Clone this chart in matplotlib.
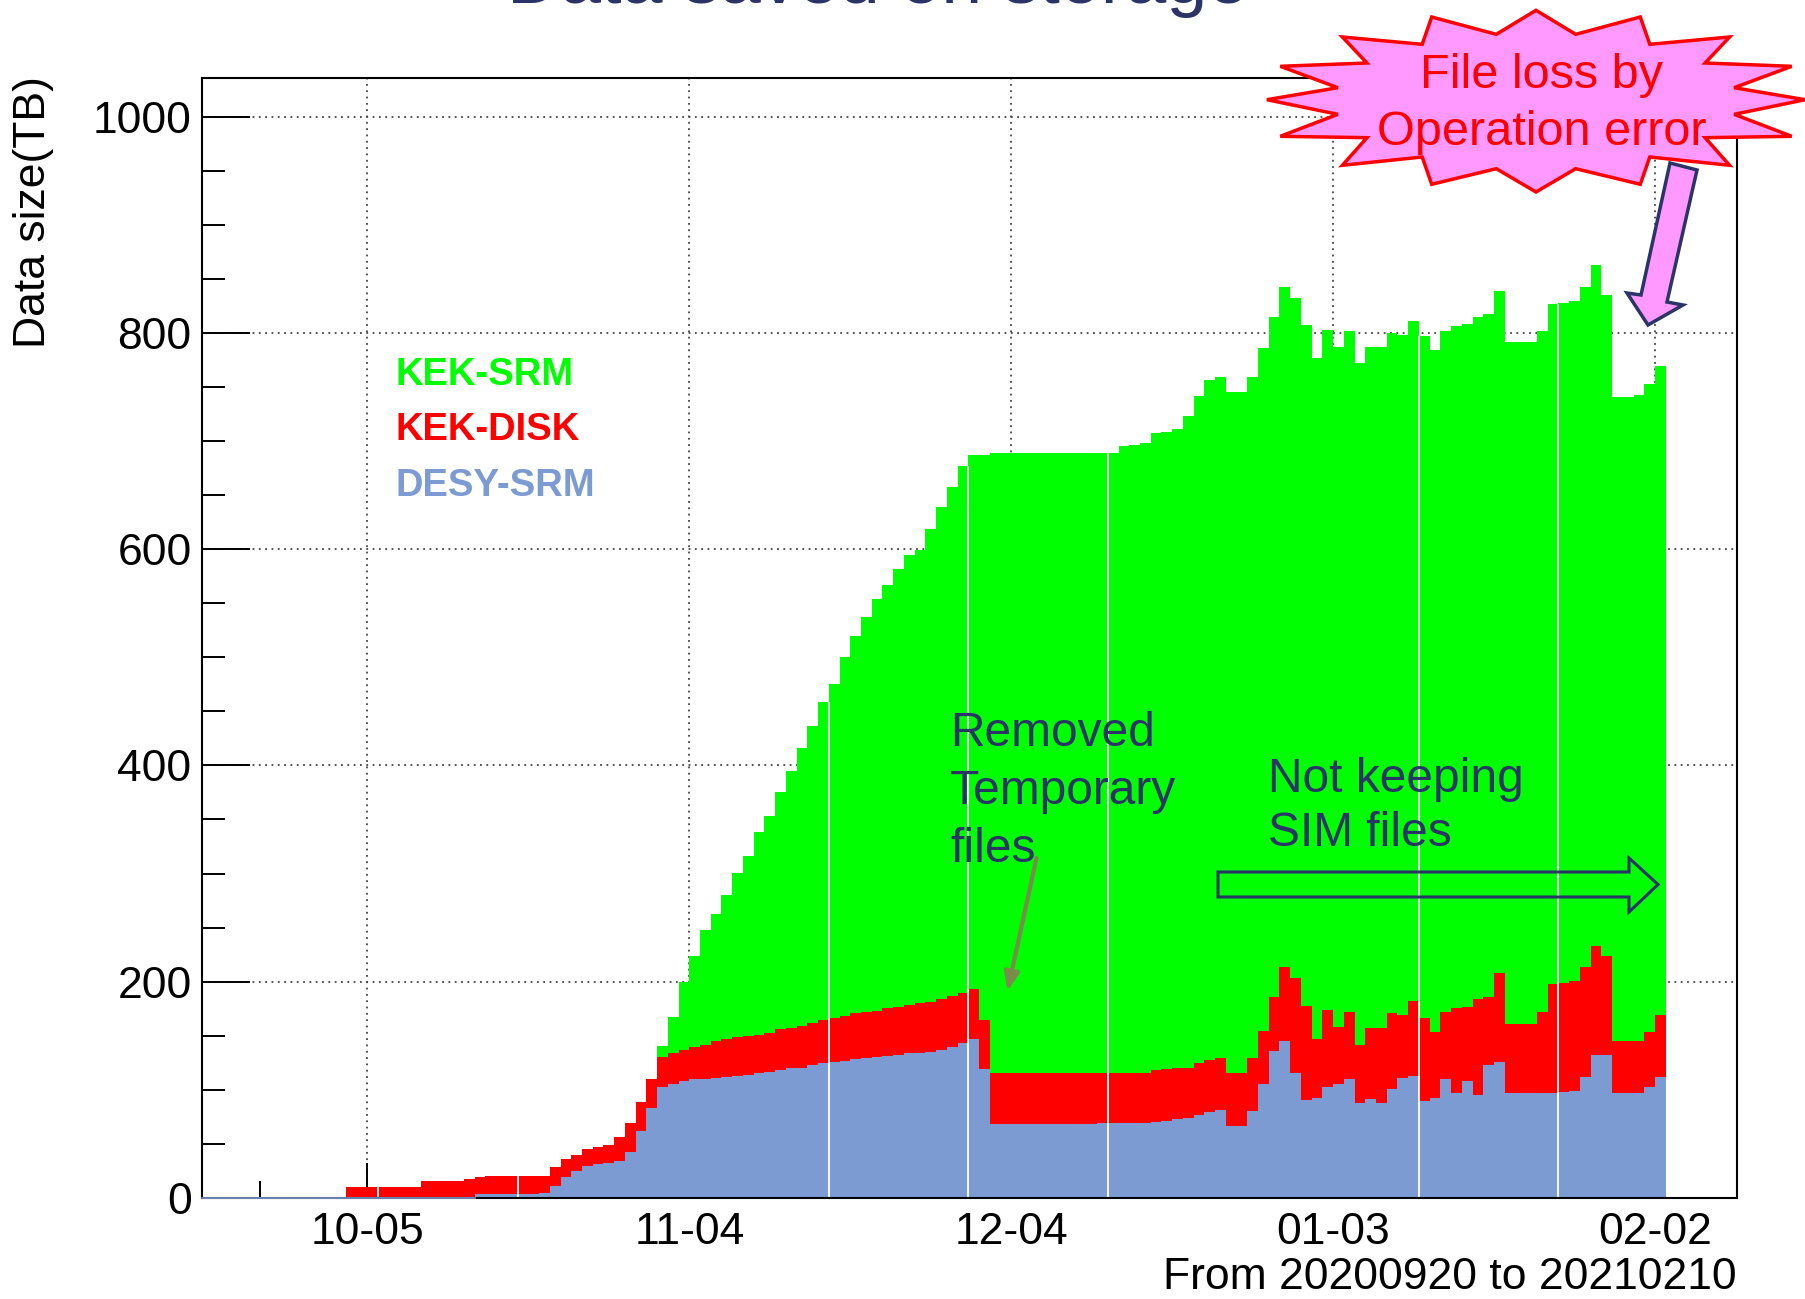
import matplotlib
matplotlib.use('Agg')
import matplotlib.pyplot as plt
import numpy as np
from matplotlib.patches import Polygon
from matplotlib.ticker import MultipleLocator, FixedLocator

plt.rcParams['font.family'] = ['Liberation Sans', 'DejaVu Sans']

# ---------------- data (daily bins, day 0 = 2020-09-20) ----------------
start_day = 13  # first non-empty bin = 2020-10-03
desy_srm = [0, 0, 0, 0, 0, 0, 0, 0, 0, 0, 0, 0,
            3.7, 3.7, 3.7, 3.7, 3.7, 3.7, 5.0, 11.0, 19.7, 25.0, 29.6, 31.4, 32.5, 34.2, 42.8, 62.2, 83.0,
            102.3, 105.4, 108.5, 109.7, 110.0, 111.3, 112.2, 112.8, 113.7, 115.3, 116.8, 118.4, 119.9, 120.5,
            123.0, 124.5, 126.0, 127.0, 128.2, 129.7, 130.7, 131.3, 132.2, 133.8, 134.4, 135.3, 136.8, 139.9,
            143.0, 146.7, 119.0,
            68.1, 68.1, 68.1, 68.1, 68.1, 68.1, 68.1, 68.1, 68.1, 68.1, 69.7, 69.7, 69.7, 69.7, 69.7,
            70.6, 71.2, 72.7, 74.3, 76.7, 79.8, 81.4, 66.9, 66.9, 80.4, 105.1, 136.2, 145.2, 115.9, 90.6,
            92.2, 102.3, 105.1, 109.7, 88.1, 91.5, 88.1, 100.8, 111.3, 112.8, 89.7, 92.2, 110.0, 96.8, 108.5,
            95.2, 123.0, 126.0, 96.8, 96.8, 96.8, 96.8, 96.8, 97.7, 99.2, 112.2, 132.2, 132.2, 96.8, 96.8,
            96.8, 102.3, 112.2]
kek_disk = [10.5, 10.5, 10.5, 10.5, 10.5, 10.5, 10.5, 16.0, 16.0, 16.0, 16.0, 17.6,
            16.0, 16.9, 16.9, 16.9, 16.9, 16.9, 15.6, 17.4, 16.3, 14.8, 15.4, 16.1, 16.2, 21.8, 27.0, 26.8, 26.7,
            28.4, 28.4, 28.3, 30.2, 31.5, 34.2, 34.8, 35.8, 36.3, 35.4, 36.2, 37.6, 37.1, 38.5,
            38.5, 40.5, 40.7, 41.3, 42.6, 42.3, 42.3, 44.1, 44.8, 44.7, 45.6, 46.3, 47.2, 47.1,
            47.0, 46.3, 45.6,
            47.8, 47.8, 47.8, 47.8, 47.8, 47.8, 47.8, 47.8, 47.8, 47.8, 46.2, 46.2, 46.2, 46.2, 46.2,
            47.8, 48.1, 47.2, 45.6, 47.8, 47.8, 47.7, 49.0, 49.0, 48.7, 49.3, 49.3, 68.0, 87.2, 87.2,
            54.8, 71.5, 52.7, 62.0, 53.4, 66.1, 69.5, 70.0, 57.9, 69.6, 77.0, 61.0, 62.3, 78.6, 68.4,
            88.8, 62.5, 81.7, 64.1, 64.1, 64.1, 75.5, 100.8, 101.4, 101.4, 101.7, 100.8, 91.9, 48.7, 48.7,
            48.7, 50.9, 57.0]
kek_srm = [0, 0, 0, 0, 0, 0, 0, 0, 0, 0, 0, 0,
           0, 0, 0, 0, 0, 0, 0, 0, 0, 0, 0, 0, 0, 0, 0, 0, 0,
           10.1, 33.8, 63.2, 83.9, 106.3, 117.1, 133.2, 151.6, 166.2, 187.3, 200.5, 219.6, 238.0, 256.7,
           274.9, 293.9, 308.2, 332.2, 348.8, 365.5, 380.4, 391.6, 404.8, 416.5, 419.3, 437.1, 455.2, 470.0,
           486.5, 494.0, 522.4,
           572.7, 572.7, 572.7, 572.7, 572.7, 572.7, 572.7, 572.7, 572.7, 572.7, 572.7, 572.7, 579.0, 580.5, 582.1,
           588.6, 589.0, 591.5, 603.5, 616.8, 628.4, 630.1, 629.8, 629.8, 630.1, 631.2, 628.9, 629.6, 629.2, 629.6,
           629.3, 629.2, 629.2, 629.6, 630.7, 629.1, 629.1, 628.8, 629.0, 628.7, 630.4, 630.9, 629.0, 630.9, 630.9,
           631.0, 631.5, 631.2, 630.9, 630.9, 630.9, 629.0, 628.7, 628.8, 628.8, 628.9, 629.3, 610.5, 595.6, 595.6,
           597.1, 599.4, 600.1]

tick_days = [15, 45, 75, 105, 135]
tick_labels = ['10-05', '11-04', '12-04', '01-03', '02-02']
gap_days = [16, 29, 58, 71, 84, 113, 126]
series_names = ['KEK-SRM', 'KEK-DISK', 'DESY-SRM']
series_colors = ['#00ff00', '#ff0000', '#7b9bd2']

NAVY = '#2b3467'
PINK = '#ff99ff'

W, H = 1806, 1299
fig = plt.figure(figsize=(W / 100, H / 100), dpi=100)


def P(x, y):
    return (x / W, 1 - y / H)


ax = fig.add_axes([201.6 / W, 1 - 1198 / H, 1535.4 / W, 1120 / H])
ax.set_xlim(-0.45, 142.64)
ax.set_ylim(0, 1035.6)
ax.set_axisbelow(True)

b = np.array(desy_srm, float)
d = np.array(kek_disk, float)
s = np.array(kek_srm, float)
n = len(b)
edges = np.arange(start_day, start_day + n + 1)
tot_red = b + d
tot = b + d + s

ax.stairs(tot, edges, baseline=0, fill=True, facecolor=series_colors[0], edgecolor='none', lw=0, zorder=1.0)
ax.stairs(tot_red, edges, baseline=0, fill=True, facecolor=series_colors[1], edgecolor='none', lw=0, zorder=1.1)
ax.stairs(b, edges, baseline=0, fill=True, facecolor=series_colors[2], edgecolor='none', lw=0, zorder=1.2)

# zero outline of DESY histogram before it becomes non-zero
first_nz = start_day + int(np.argmax(b > 0))
ax.plot([-0.45, first_nz], [0, 0], color=series_colors[2], lw=1.2, zorder=3, clip_on=False)

# thin white seams
for g in gap_days:
    i = g - start_day
    top = min(tot[i - 1], tot[i])
    ax.vlines(g, 0, top, color='white', lw=1.3, zorder=1.5)

# axes styling
ax.set_xticks(tick_days)
ax.set_xticklabels(tick_labels)
ax.xaxis.set_minor_locator(FixedLocator([5]))
ax.yaxis.set_major_locator(MultipleLocator(200))
ax.yaxis.set_minor_locator(MultipleLocator(50))
ax.tick_params(axis='x', which='major', direction='in', length=25, width=1.4, labelsize=32, pad=10,
               top=False)
ax.tick_params(axis='x', which='minor', direction='in', length=12, width=1.4, top=False)
ax.tick_params(axis='y', which='major', direction='in', length=34.5, width=1.4, labelsize=32, pad=7.2,
               right=False)
ax.tick_params(axis='y', which='minor', direction='in', length=16.5, width=1.4, right=False)
ax.grid(True, which='major', linestyle=(0, (1, 2.5)), color='#444444', lw=1.3)
for sp in ax.spines.values():
    sp.set_linewidth(1.5)
    sp.set_color('black')

# labels
fig.text(*P(34, 76), 'Data size(TB)', rotation=90, ha='center', va='top', fontsize=32)
fig.text(*P(1737, 1298), 'From 20200920 to 20210210', ha='right', va='bottom', fontsize=32)

# title (cropped at the top)
fig.text(*P(878, 3), 'Data saved on storage', ha='center', va='baseline', fontsize=53, color=NAVY)

# legend-like labels
legend_baselines = [385, 440, 495.7]
for name, col, yb in zip(series_names, series_colors, legend_baselines):
    fig.text(*P(395.5, yb), name, color=col, fontsize=27.5, fontweight='bold', va='baseline', ha='left')

# annotations
for txt, yb in zip(['Removed', 'Temporary', 'files'], [745.5, 803.5, 861.5]):
    fig.text(*P(950, yb), txt, color=NAVY, fontsize=34.5, va='baseline', ha='left')
for txt, yb in zip(['Not keeping', 'SIM files'], [792.5, 846.5]):
    fig.text(*P(1268, yb), txt, color=NAVY, fontsize=34.5, va='baseline', ha='left')

# olive arrow
ax.annotate('', xy=P(1007.5, 991), xytext=P(1036.5, 858), xycoords='figure fraction',
            textcoords='figure fraction',
            arrowprops=dict(arrowstyle='-|>,head_length=1.1,head_width=0.45', color='#7b8b4e', lw=3.0,
                            shrinkA=0, shrinkB=0), zorder=6)

# hollow arrow
hollow = [(1218, 872), (1629, 872), (1629, 858), (1658, 884.5), (1629, 912), (1629, 897), (1218, 897)]
fig.patches.append(Polygon([P(x, y) for x, y in hollow], closed=True, transform=fig.transFigure,
                           facecolor='none', edgecolor=NAVY, lw=2.2, zorder=6))

# starburst
right = [(0, -90.7), (39.7, -66.7), (104.3, -84), (113.8, -56.7), (193.6, -64), (169.1, -38),
         (255.7, -34.7), (198.2, -13.3), (269.1, -1.3), (198.2, 13.3), (255.7, 35.3), (169.1, 36.7),
         (193.6, 64.3), (113.8, 56), (104.3, 83.3), (39.7, 67.7), (0, 91)]
left = [(-dx, dy) for dx, dy in reversed(right[1:-1])]
cx, cy = 1536, 101
star = [P(cx + dx, cy + dy) for dx, dy in right + left]
fig.patches.append(Polygon(star, closed=True, transform=fig.transFigure, facecolor=PINK,
                           edgecolor='#ff0000', lw=2.5, zorder=7, clip_on=False))
fig.text(*P(1542, 88.3), 'File loss by', color='#ff0000', fontsize=35, ha='center', va='baseline', zorder=8)
fig.text(*P(1542, 145), 'Operation error', color='#ff0000', fontsize=35, ha='center', va='baseline', zorder=8)

# pink arrow
parrow = [(1670, 163), (1697, 170), (1667, 302), (1683, 305), (1648, 325), (1627, 293), (1641, 295)]
fig.patches.append(Polygon([P(x, y) for x, y in parrow], closed=True, transform=fig.transFigure,
                           facecolor=PINK, edgecolor=NAVY, lw=2.5, zorder=7))

fig.savefig('out.png', dpi=100)
